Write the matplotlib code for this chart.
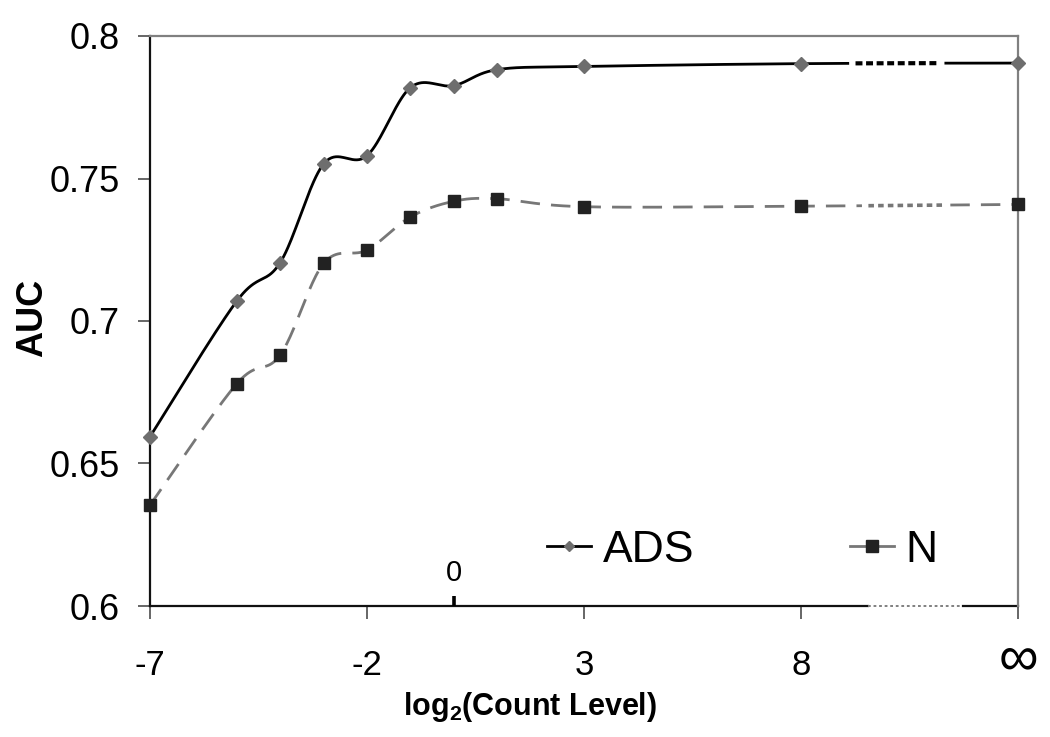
import numpy as np
import matplotlib
matplotlib.use("Agg")
import matplotlib.pyplot as plt
from matplotlib.lines import Line2D
import matplotlib.transforms as mtransforms

plt.rcParams['font.family'] = ['Liberation Sans', 'DejaVu Sans']
plt.rcParams['mathtext.fontset'] = 'custom'
plt.rcParams['mathtext.rm'] = 'Liberation Sans'
plt.rcParams['mathtext.bf'] = 'Liberation Sans:bold'
plt.rcParams['lines.scale_dashes'] = False

# ---- data ----
x_levels = [-7, -5, -4, -3, -2, -1, 0, 1, 3, 8, 13]   # 13 = position of "infinity"
ads_auc = [0.6594, 0.7070, 0.7205, 0.7551, 0.7580, 0.7819, 0.7826, 0.7882, 0.7893, 0.7903, 0.7905]
n_auc = [0.6354, 0.6780, 0.6881, 0.7202, 0.7249, 0.7365, 0.7420, 0.7429, 0.7401, 0.7403, 0.7409]
x_ticks = [-7, -2, 3, 8, 13]
x_tick_labels = ['-7', '-2', '3', '8', '\u221e']
y_ticks = [0.6, 0.65, 0.7, 0.75, 0.8]
y_tick_labels = ['0.6', '0.65', '0.7', '0.75', '0.8']

W, H = 1050, 737
fig = plt.figure(figsize=(W / 100, H / 100), dpi=100)
ax = fig.add_axes([150 / W, 1 - 606 / H, (1018 - 150) / W, (606 - 36) / H])
ax.set_xlim(-7, 13)
ax.set_ylim(0.6, 0.8)


def smooth(xs, ys, n=40):
    """Excel-like smoothed line (Catmull-Rom Bezier) computed in display space."""
    pts = ax.transData.transform(np.column_stack([xs, ys]))
    P = np.vstack([pts[0], pts, pts[-1]])
    out = []
    t = np.linspace(0, 1, n)[:, None]
    for i in range(1, len(P) - 2):
        p0, p1, p2, p3 = P[i - 1], P[i], P[i + 1], P[i + 2]
        c1 = p1 + (p2 - p0) / 6.0
        c2 = p2 - (p3 - p1) / 6.0
        seg = ((1 - t) ** 3) * p1 + 3 * ((1 - t) ** 2) * t * c1 + 3 * (1 - t) * t ** 2 * c2 + t ** 3 * p2
        out.append(seg if i == 1 else seg[1:])
    out = np.vstack(out)
    d = ax.transData.inverted().transform(out)
    return d[:, 0], d[:, 1]


def draw_broken(xs, ys, brk, solid_kw, dot_kw):
    sx, sy = smooth(xs, ys)
    a, b = brk
    m1 = sx <= a
    m2 = (sx >= a) & (sx <= b)
    m3 = sx >= b
    ax.plot(sx[m1], sy[m1], **solid_kw)
    ax.plot(sx[m2], sy[m2], **dot_kw)
    ax.plot(sx[m3], sy[m3], **solid_kw)


ads_line = '#000000'
ads_mark = '#6e6e6e'
n_line = '#777777'
n_mark = '#222222'

# ADS
draw_broken(x_levels, ads_auc, (9.2, 11.23),
            dict(color=ads_line, lw=2.0, solid_capstyle='butt', zorder=3),
            dict(color=ads_line, lw=3.0, linestyle=(0, (5, 2.6)), dash_capstyle='butt', zorder=3))
ax.plot(x_levels, ads_auc, linestyle='none', marker='D', ms=7, color=ads_mark,
        mec=ads_mark, zorder=4, clip_on=False)

# N
draw_broken(x_levels, n_auc, (9.41, 11.39),
            dict(color=n_line, lw=2.0, linestyle=(0, (14, 8)), dash_capstyle='butt', zorder=3),
            dict(color=n_line, lw=2.6, linestyle=(0, (4, 3)), dash_capstyle='butt', zorder=3))
ax.plot(x_levels, n_auc, linestyle='none', marker='s', ms=9, color=n_mark,
        mec=n_mark, zorder=4, clip_on=False)

# spines
for s in ['top', 'right']:
    ax.spines[s].set_color('#808080')
    ax.spines[s].set_linewidth(1.6)
ax.spines['left'].set_color('#111111')
ax.spines['left'].set_linewidth(1.6)
ax.spines['bottom'].set_visible(False)
trans = mtransforms.blended_transform_factory(ax.transData, ax.transAxes)
ax.plot([-7, 9.54], [0, 0], color='#111111', lw=1.6, transform=trans, clip_on=False, zorder=2)
ax.plot([9.54, 11.73], [0, 0], color='#808080', lw=1.4, linestyle=(0, (2, 2)),
        transform=trans, clip_on=False, zorder=2)
ax.plot([11.73, 13], [0, 0], color='#111111', lw=1.6, transform=trans, clip_on=False, zorder=2)

ax.set_xticks(x_ticks)
ax.set_xticklabels(x_tick_labels)
ax.set_yticks(y_ticks)
ax.set_yticklabels(y_tick_labels)
ax.tick_params(axis='y', direction='out', length=9, width=1.4, color='#666666',
               labelsize=26, pad=13)
ax.tick_params(axis='x', direction='out', length=9, width=1.4, color='#666666',
               labelsize=25, pad=22)
for lab in ax.get_xticklabels():
    if lab.get_text() == '\u221e':
        lab.set_fontsize(40)
        lab.set_y(0.025)

# zero marker
ax.plot([0], [0.6], marker=2, ms=7, mew=2.6, color='#000000', clip_on=False, zorder=5)
ax.annotate('0', xy=(0, 0.6), xytext=(0, 14), textcoords='offset points',
            ha='center', va='bottom', fontsize=21)

# labels
fig.text(33 / W, 1 - 318 / H, 'AUC', rotation=90, fontsize=26, fontweight='bold',
         ha='center', va='center')
fig.text(530 / W, 1 - 707 / H, r'log$_{\mathbf{2}}$(Count Level)', fontsize=22,
         fontweight='bold', ha='center', va='center')

# legend
h1 = Line2D([], [], color=ads_line, lw=2.0, marker='D', ms=5.5, mfc=ads_mark, mec=ads_mark)
h2 = Line2D([], [], color=n_line, lw=2.0, marker='s', ms=9, mfc=n_mark, mec=n_mark)
fig.legend([h1, h2], ['ADS', 'N'], loc='center left', bbox_to_anchor=(547 / W, 1 - 550 / H),
           ncol=2, frameon=False, fontsize=32, handlelength=1.0, handletextpad=0.25,
           columnspacing=3.5, borderpad=0, borderaxespad=0)

fig.savefig('out.png', dpi=100)
